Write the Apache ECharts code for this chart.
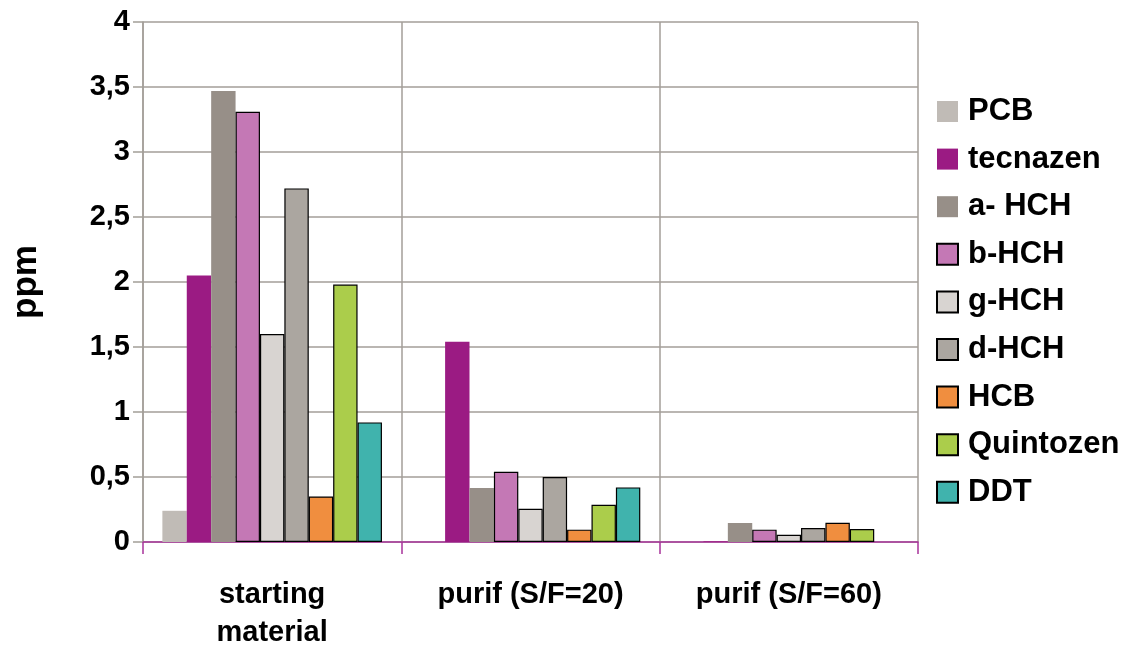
<!DOCTYPE html>
<html>
<head>
<meta charset="utf-8">
<script src="https://cdn.jsdelivr.net/npm/echarts@6/dist/echarts.min.js"></script>
<style>
html,body{margin:0;padding:0;background:#fff;}
#chart{width:1138px;height:652px;}
</style>
</head>
<body>
<div id="chart"></div>
<script>
const categories = ['starting\nmaterial', 'purif (S/F=20)', 'purif (S/F=60)'];
const seriesNames = ['PCB', 'tecnazen', 'a- HCH', 'b-HCH', 'g-HCH', 'd-HCH', 'HCB', 'Quintozen', 'DDT'];
const PCB = [0.24, 0, 0];
const tecnazen = [2.05, 1.54, 0.005];
const aHCH = [3.47, 0.415, 0.146];
const bHCH = [3.31, 0.54, 0.095];
const gHCH = [1.60, 0.256, 0.056];
const dHCH = [2.72, 0.50, 0.107];
const HCB = [0.35, 0.095, 0.148];
const Quintozen = [1.98, 0.286, 0.10];
const DDT = [0.92, 0.42, 0];
const yTicks = { min: 0, max: 4, interval: 0.5 };

const seriesData = [PCB, tecnazen, aHCH, bHCH, gHCH, dHCH, HCB, Quintozen, DDT];
const colors = ['#c0bbb6', '#9b1b83', '#978f88', '#c478b5', '#d8d4d1', '#aba6a0', '#f08e3f', '#abcd4b', '#40b3ad'];
const bordered = [false, false, false, true, true, true, true, true, true];
const gridColor = '#a39e98';
const axisPurple = '#a8339a';
const font = 'Liberation Sans, Arial, sans-serif';

const chart = echarts.init(document.getElementById('chart'));
chart.setOption({
  animation: false,
  backgroundColor: '#fff',
  grid: { left: 143, right: 220, top: 22, bottom: 109 },
  legend: {
    orient: 'vertical',
    left: 936,
    top: 96,
    padding: 0,
    icon: 'rect',
    itemWidth: 21,
    itemHeight: 21,
    itemGap: 16.6,
    data: seriesNames,
    textStyle: { fontFamily: font, fontWeight: 'bold', fontSize: 31, color: '#000', lineHeight: 31, padding: [0, 0, 0, 5] }
  },
  xAxis: {
    type: 'category',
    data: categories,
    axisLine: { lineStyle: { color: axisPurple, width: 1.5 } },
    axisTick: { show: true, length: 12, lineStyle: { color: axisPurple, width: 1.5 } },
    splitLine: { show: true, lineStyle: { color: gridColor, width: 1.5 } },
    axisLabel: { fontFamily: font, fontWeight: 'bold', fontSize: 29, color: '#000', margin: 34, lineHeight: 38 }
  },
  yAxis: {
    type: 'value',
    min: yTicks.min, max: yTicks.max, interval: yTicks.interval,
    name: 'ppm',
    nameLocation: 'middle',
    nameGap: 99,
    nameRotate: 90,
    nameTextStyle: { fontFamily: font, fontWeight: 'bold', fontSize: 35, color: '#000' },
    axisLine: { show: true, lineStyle: { color: gridColor, width: 1.5 } },
    axisTick: { show: true, length: 10, lineStyle: { color: gridColor, width: 1.5 } },
    splitLine: { show: true, lineStyle: { color: gridColor, width: 1.5 } },
    axisLabel: {
      fontFamily: font, fontWeight: 'bold', fontSize: 29, color: '#000', margin: 13,
      formatter: v => String(v).replace('.', ',')
    }
  },
  series: seriesNames.map((n, i) => ({
    name: n,
    type: 'bar',
    data: seriesData[i].map(v => v === 0 ? { value: v, itemStyle: { borderWidth: 0, opacity: 0 } } : v),
    barGap: '0%',
    barCategoryGap: '15%',
    itemStyle: {
      color: colors[i],
      borderColor: bordered[i] ? '#000' : colors[i],
      borderWidth: bordered[i] ? 1.2 : 0
    }
  }))
});
</script>
</body>
</html>
